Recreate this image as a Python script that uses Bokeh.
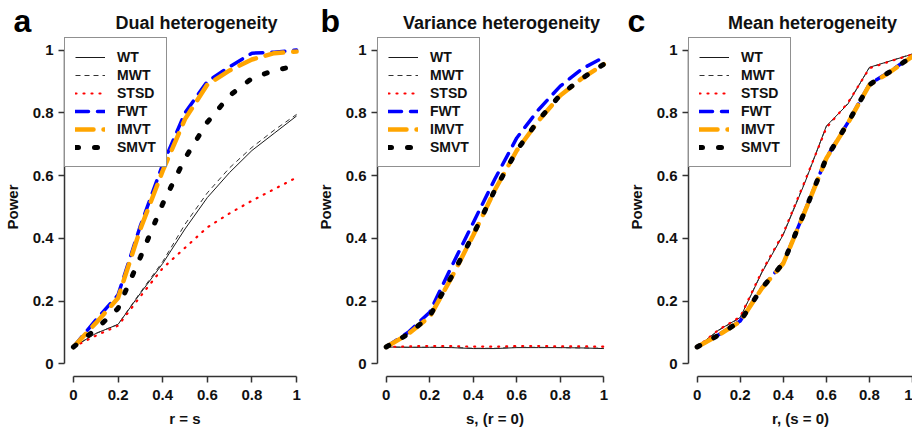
from bokeh.plotting import figure
from bokeh.layouts import row, column
from bokeh.models import Range1d, FixedTicker, Label
from bokeh.embed import file_html
from bokeh.resources import INLINE

# ---------------- data ----------------
x_vals = [0.0, 0.1, 0.2, 0.3, 0.4, 0.5, 0.6, 0.7, 0.8, 0.9, 1.0]
tick_vals = [0, 0.2, 0.4, 0.6, 0.8, 1]
tick_labels = ["0", "0.2", "0.4", "0.6", "0.8", "1"]
methods = ["WT", "MWT", "STSD", "FWT", "IMVT", "SMVT"]

panel_letters = ["a", "b", "c"]
panel_titles = ["Dual heterogeneity", "Variance heterogeneity", "Mean heterogeneity"]
x_labels = ["r = s", "s, (r = 0)", "r, (s = 0)"]
y_label = "Power"

# panel a: dual heterogeneity
dual_WT   = [0.054, 0.097, 0.126, 0.225, 0.320, 0.430, 0.530, 0.610, 0.680, 0.735, 0.790]
dual_MWT  = [0.054, 0.097, 0.126, 0.228, 0.326, 0.445, 0.545, 0.625, 0.690, 0.745, 0.795]
dual_STSD = [0.054, 0.090, 0.122, 0.215, 0.305, 0.370, 0.435, 0.480, 0.520, 0.557, 0.594]
dual_FWT  = [0.054, 0.140, 0.220, 0.440, 0.635, 0.800, 0.900, 0.947, 0.990, 0.993, 1.000]
dual_IMVT = [0.054, 0.130, 0.210, 0.430, 0.615, 0.780, 0.890, 0.935, 0.970, 0.990, 0.995]
dual_SMVT = [0.054, 0.110, 0.177, 0.340, 0.510, 0.655, 0.770, 0.855, 0.910, 0.935, 0.950]

# panel b: variance heterogeneity
var_WT   = [0.054, 0.053, 0.053, 0.052, 0.049, 0.049, 0.052, 0.052, 0.052, 0.051, 0.049]
var_MWT  = [0.054, 0.053, 0.053, 0.053, 0.050, 0.050, 0.053, 0.053, 0.052, 0.051, 0.050]
var_STSD = [0.054, 0.056, 0.057, 0.057, 0.055, 0.055, 0.057, 0.057, 0.056, 0.056, 0.055]
var_FWT  = [0.054, 0.100, 0.165, 0.310, 0.450, 0.590, 0.720, 0.810, 0.885, 0.940, 0.977]
var_IMVT = [0.054, 0.095, 0.150, 0.275, 0.410, 0.555, 0.680, 0.775, 0.855, 0.910, 0.955]
var_SMVT = [0.054, 0.095, 0.152, 0.278, 0.412, 0.555, 0.680, 0.777, 0.857, 0.910, 0.955]

# panel c: mean heterogeneity
mean_WT   = [0.054, 0.108, 0.148, 0.290, 0.412, 0.577, 0.758, 0.828, 0.945, 0.966, 0.987]
mean_MWT  = [0.054, 0.107, 0.147, 0.292, 0.414, 0.580, 0.756, 0.830, 0.944, 0.966, 0.988]
mean_STSD = [0.054, 0.109, 0.150, 0.294, 0.416, 0.582, 0.752, 0.832, 0.942, 0.965, 0.986]
mean_FWT  = [0.054, 0.093, 0.137, 0.242, 0.322, 0.487, 0.657, 0.769, 0.891, 0.934, 0.982]
mean_IMVT = [0.054, 0.092, 0.135, 0.240, 0.320, 0.485, 0.655, 0.767, 0.889, 0.932, 0.980]
mean_SMVT = [0.054, 0.092, 0.136, 0.241, 0.321, 0.486, 0.656, 0.768, 0.890, 0.933, 0.981]

panel_data = [
    [dual_WT, dual_MWT, dual_STSD, dual_FWT, dual_IMVT, dual_SMVT],
    [var_WT, var_MWT, var_STSD, var_FWT, var_IMVT, var_SMVT],
    [mean_WT, mean_MWT, mean_STSD, mean_FWT, mean_IMVT, mean_SMVT],
]

# ---------------- styles ----------------
FONT = "Liberation Sans"
styles = {
    "WT":   dict(line_color="#1a1a1a", line_width=1.0, line_dash="solid", line_cap="butt"),
    "MWT":  dict(line_color="#333333", line_width=1.0, line_dash="5 4", line_cap="butt"),
    "STSD": dict(line_color="#ff0000", line_width=2.2, line_dash="1 7", line_cap="round"),
    "FWT":  dict(line_color="#0000ff", line_width=3.5, line_dash="13 9", line_cap="round"),
    "IMVT": dict(line_color="#ffa500", line_width=4.5, line_dash="18 10", line_cap="round"),
    "SMVT": dict(line_color="#000000", line_width=5.0, line_dash="3 16", line_cap="round"),
}

TOTAL_W = 912
HEADER_H = 37
PANEL_H = 392

# header strip holding the panel letters and titles (pixel coordinates, y from top)
header = figure(width=TOTAL_W, height=HEADER_H, title=None,
                x_range=Range1d(0, TOTAL_W), y_range=Range1d(HEADER_H, 0),
                x_axis_location=None, y_axis_location=None,
                output_backend="svg", toolbar_location=None, min_border=0)
header.outline_line_color = None
header.grid.visible = False
# (letter x, title centre x) for each panel
header_pos = [(13, 196), (320, 501), (627, 812)]
for i in range(3):
    lx, tx = header_pos[i]
    header.add_layout(Label(x=lx, y=20, text=panel_letters[i],
                            text_font=FONT, text_font_style="bold", text_font_size="32px",
                            text_align="left", text_baseline="alphabetic", text_color="black"))
    header.add_layout(Label(x=tx, y=22, text=panel_titles[i],
                            text_font=FONT, text_font_style="bold", text_font_size="18px",
                            text_align="center", text_baseline="alphabetic", text_color="#111111"))

# per-panel layout: (fig width, border_left, border_right, x_end)
layout_cfg = [
    (313, 61, 8, 1.04),
    (311, 54, 12, 1.04),
    (288, 54, 0, 1.00),
]

figs = []
for i in range(3):
    width, bl, br, x_end = layout_cfg[i]
    p = figure(width=width, height=PANEL_H, title=None,
               x_range=Range1d(-0.04, x_end), y_range=Range1d(-0.04, 1.04),
               output_backend="svg", toolbar_location=None,
               min_border_left=bl, min_border_right=br,
               min_border_top=0, min_border_bottom=53)
    p.outline_line_color = None
    p.grid.visible = False
    p.background_fill_color = "white"
    p.border_fill_color = "white"

    for name, ys in zip(methods, panel_data[i]):
        p.line(x_vals, ys, legend_label=name, **styles[name])

    overrides = dict(zip(tick_vals, tick_labels))
    for ax in (p.xaxis[0], p.yaxis[0]):
        ax.bounds = (0, 1)
        ax.ticker = FixedTicker(ticks=tick_vals)
        ax.major_label_overrides = overrides
        ax.axis_line_color = "#333333"
        ax.axis_line_width = 1.5
        ax.major_tick_line_color = "#333333"
        ax.major_tick_line_width = 1.5
        ax.major_tick_in = 0
        ax.major_tick_out = 6
        ax.minor_tick_line_color = None
        ax.major_label_text_font = FONT
        ax.major_label_text_font_style = "bold"
        ax.major_label_text_font_size = "15px"
        ax.major_label_text_color = "#111111"
        ax.axis_label_text_font = FONT
        ax.axis_label_text_font_style = "bold"
        ax.axis_label_text_font_size = "15px"
        ax.axis_label_text_color = "#111111"
    p.xaxis[0].axis_label = x_labels[i]
    p.xaxis[0].major_label_standoff = 7
    p.xaxis[0].axis_label_standoff = 7
    p.yaxis[0].axis_label = y_label
    p.yaxis[0].major_label_standoff = 5
    p.yaxis[0].axis_label_standoff = 9

    lg = p.legend[0]
    lg.location = "top_left"
    lg.margin = 0
    lg.padding = 10
    lg.spacing = 0
    lg.glyph_height = 18
    lg.label_height = 18
    lg.glyph_width = 30
    lg.label_standoff = 12
    lg.border_line_color = "#222222"
    lg.border_line_width = 1
    lg.background_fill_color = "white"
    lg.background_fill_alpha = 1.0
    lg.label_text_font = FONT
    lg.label_text_font_style = "bold"
    lg.label_text_font_size = "14px"
    lg.label_text_color = "#111111"
    figs.append(p)

layout = column(header, row(*figs, spacing=0), spacing=0)
open("out.html", "w").write(file_html(layout, INLINE))
